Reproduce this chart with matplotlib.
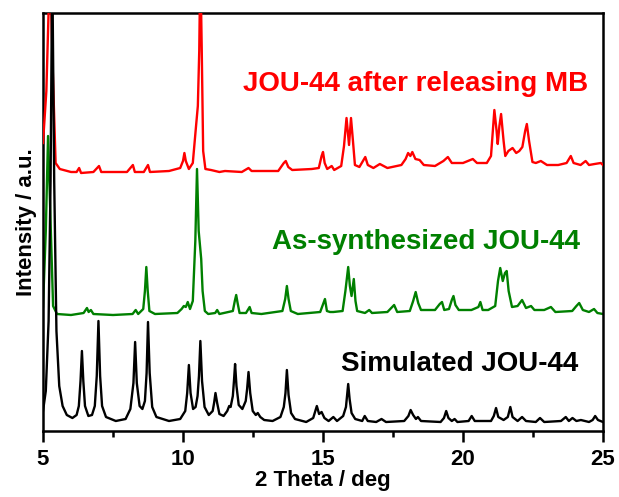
import numpy as np
import matplotlib
matplotlib.use('Agg')
import matplotlib.pyplot as plt
from matplotlib.ticker import MultipleLocator

plt.rcParams['font.family'] = ['Liberation Sans', 'DejaVu Sans']
plt.rcParams['font.weight'] = 'bold'

# Data (2 theta in deg, intensity in a.u., curves already offset)
# ----- ----- ----- ----- ----- ----- ----- ----- ----- ----- ----- ----- ----- -----
sim_x = [5.00, 5.10, 5.20, 5.27, 5.33, 5.40, 5.48, 5.58, 5.70, 5.85, 6.05, 6.20,
         6.28, 6.34, 6.39, 6.44, 6.50, 6.62, 6.75,
         6.85, 6.92, 6.98, 7.04, 7.11, 7.25, 7.60, 7.95,
         8.12, 8.23, 8.29, 8.35, 8.45, 8.55,
         8.64, 8.70, 8.75, 8.81, 8.90, 9.05, 9.50, 9.90,
         10.08, 10.15, 10.21, 10.27, 10.36, 10.45,
         10.52, 10.57, 10.62, 10.68, 10.77, 10.92,
         11.06, 11.11, 11.16, 11.22, 11.30, 11.45,
         11.58, 11.65, 11.70,
         11.78, 11.82, 11.86, 11.91, 11.99, 12.12,
         12.24, 12.29, 12.34, 12.40, 12.49, 12.60,
         12.67, 12.76, 12.90, 13.20, 13.48,
         13.60, 13.66, 13.71, 13.77, 13.86, 14.00, 14.40, 14.65,
         14.78, 14.86, 14.95, 15.05, 15.20, 15.37, 15.50, 15.72,
         15.82, 15.86, 15.90, 15.95, 16.02, 16.15, 16.40, 16.49, 16.60, 16.90,
         17.09, 17.25, 17.90, 18.05, 18.13, 18.22, 18.32, 18.39, 18.50,
         19.20, 19.32, 19.40, 19.48, 19.60, 19.70, 19.80, 20.20, 20.31, 20.42,
         21.00, 21.10, 21.18, 21.26, 21.45, 21.60, 21.69, 21.77, 21.95, 22.11,
         22.25, 22.60, 22.75, 22.90, 23.50, 23.67, 23.78, 23.91, 24.05, 24.21,
         24.50, 24.63, 24.72, 24.82, 25.00]
sim_y = [20, 40, 110, 250, 470, 250, 100, 45, 25, 16, 13, 16,
         25, 50, 80, 50, 25, 15, 16,
         25, 55, 110, 55, 25, 14, 10, 12,
         22, 48, 89, 48, 25, 22,
         30, 58, 109, 58, 24, 14, 10, 12,
         20, 38, 66, 38, 22, 24,
         35, 55, 90, 50, 24, 16,
         20, 28, 38, 28, 17, 15,
         20, 25, 24,
         35, 50, 67, 45, 26, 22,
         30, 42, 59, 38, 20, 16,
         18, 14, 11, 10, 14,
         24, 38, 61, 36, 18, 12, 9, 13,
         25, 17, 19, 13, 10, 14, 10, 15,
         24, 35, 47, 32, 18, 12, 10, 15, 10, 9,
         12, 9, 10, 15, 21, 16, 12, 14, 10,
         9, 13, 20, 13, 10, 12, 9, 10, 15, 10,
         10, 15, 23, 14, 11, 14, 24, 14, 10, 14,
         10, 9, 13, 9, 10, 14, 10, 13, 10, 11,
         9, 11, 15, 11, 9]

asyn_x = [5.00, 5.10, 5.18, 5.28, 5.36, 5.50, 6.00, 6.45, 6.57, 6.63, 6.71, 6.80,
          7.50, 8.20, 8.31, 8.40, 8.58, 8.64, 8.69, 8.74, 8.80, 9.00,
          9.80, 9.95, 10.03, 10.10, 10.17, 10.25, 10.35, 10.44, 10.50, 10.56,
          10.65, 10.70, 10.78, 10.90, 11.15, 11.22, 11.30, 11.78, 11.85, 11.90,
          11.95, 12.02, 12.25, 12.38, 12.45, 12.80, 13.55, 13.65, 13.71, 13.77,
          13.85, 14.10, 14.90, 15.07, 15.14, 15.25, 15.37, 15.70, 15.80, 15.90,
          15.96, 16.02, 16.10, 16.16, 16.22, 16.50, 16.65, 16.75, 17.30, 17.54,
          17.65, 18.10, 18.22, 18.31, 18.40, 18.50, 19.00, 19.17, 19.25, 19.33,
          19.50, 19.60, 19.66, 19.73, 19.85, 20.30, 20.55, 20.62, 20.70, 20.90,
          21.15, 21.25, 21.33, 21.42, 21.50, 21.56, 21.63, 21.75, 21.95, 22.11,
          22.25, 22.43, 22.55, 22.90, 23.14, 23.30, 23.90, 24.05, 24.15, 24.28,
          24.50, 24.68, 24.80, 25.00]
asyn_y = [124, 200, 295, 200, 125, 117, 116, 118, 123, 119, 121, 117,
          116, 117, 121, 117, 122, 140, 164, 140, 120, 117,
          118, 122, 125, 124, 129, 122, 130, 190, 262, 200,
          172, 140, 120, 117, 118, 121, 117, 120, 130, 136,
          128, 118, 118, 124, 118, 117, 120, 132, 145, 132,
          120, 117, 119, 132, 120, 119, 119, 120, 140, 164,
          145, 135, 152, 130, 120, 118, 121, 118, 119, 126,
          119, 120, 130, 139, 128, 121, 121, 127, 129, 121,
          122, 131, 135, 126, 121, 121, 124, 129, 121, 121,
          125, 150, 163, 150, 158, 160, 140, 124, 125, 131,
          123, 125, 121, 121, 124, 119, 120, 125, 128, 121,
          119, 122, 118, 117]

rel_x = [5.00, 5.12, 5.25, 5.35, 5.45, 5.60, 6.00, 6.20, 6.29, 6.36, 6.80, 7.00,
         7.08, 8.00, 8.21, 8.28, 8.60, 8.75, 8.82, 9.50, 9.90, 10.00, 10.05, 10.10,
         10.21, 10.35, 10.45, 10.53, 10.58, 10.62, 10.67, 10.72, 10.80, 11.00, 11.30, 11.50,
         12.10, 12.34, 12.45, 13.40, 13.60, 13.67, 13.76, 13.90, 14.60, 14.85, 14.95, 15.00,
         15.06, 15.15, 15.31, 15.40, 15.65, 15.75, 15.84, 15.93, 16.00, 16.07, 16.14, 16.30,
         16.51, 16.60, 16.80, 17.03, 17.30, 17.80, 17.95, 18.04, 18.12, 18.19, 18.30, 18.45,
         18.60, 19.00, 19.30, 19.46, 19.60, 20.00, 20.35, 20.50, 20.85, 21.00, 21.12, 21.20,
         21.24, 21.30, 21.36, 21.45, 21.51, 21.62, 21.77, 21.90, 22.01, 22.12, 22.22, 22.28,
         22.36, 22.48, 22.60, 22.78, 23.00, 23.40, 23.70, 23.85, 23.95, 24.20, 24.38, 24.50,
         24.70, 24.92, 25.00]
rel_y = [288, 340, 470, 360, 268, 262, 259, 259, 263, 258, 259, 265,
         259, 259, 266, 259, 259, 266, 259, 260, 263, 270, 278, 270,
         262, 268, 300, 325, 380, 470, 380, 280, 262, 261, 259, 260,
         259, 263, 260, 260, 268, 270, 264, 261, 262, 263, 275, 279,
         268, 262, 265, 261, 265, 285, 313, 286, 313, 290, 266, 264,
         274, 266, 263, 267, 263, 266, 272, 278, 275, 279, 272, 271,
         266, 265, 270, 274, 268, 268, 272, 268, 268, 275, 321, 300,
         287, 305, 317, 290, 275, 280, 283, 278, 280, 284, 300, 307,
         290, 269, 268, 270, 266, 266, 268, 275, 268, 266, 270, 266,
         267, 268, 266]

labels = ['Simulated JOU-44', 'As-synthesized JOU-44', 'JOU-44 after releasing MB']
colors = ['black', '#008000', '#ff0000']
x_ticks = [5, 10, 15, 20, 25]

# Plot
# ----- ----- ----- ----- ----- ----- ----- ----- ----- ----- ----- ----- ----- -----
fig = plt.figure(figsize=(6.19, 4.97), dpi=100)
ax = fig.add_axes([43 / 619, 66 / 497, 560 / 619, 418 / 497])

ax.plot(asyn_x, asyn_y, color=colors[1], lw=1.7, zorder=2)
ax.plot(rel_x, rel_y, color=colors[2], lw=1.7, zorder=3)
ax.plot(sim_x, sim_y, color=colors[0], lw=1.7, zorder=4)

ax.text(19.89, 67, labels[0], color=colors[0], fontsize=20, fontweight='bold',
        ha='center', va='center')
ax.text(18.67, 189, labels[1], color=colors[1], fontsize=20, fontweight='bold',
        ha='center', va='center')
ax.text(18.31, 347, labels[2], color=colors[2], fontsize=20, fontweight='bold',
        ha='center', va='center')

ax.set_xlim(5, 25)
ax.set_ylim(0, 418)
ax.set_xticks(x_ticks)
ax.set_xticklabels([str(t) for t in x_ticks])
ax.xaxis.set_minor_locator(MultipleLocator(2.5))
ax.set_yticks([])
ax.tick_params(axis='x', which='major', direction='out', length=8, width=1.8,
               labelsize=16, pad=5)
ax.tick_params(axis='x', which='minor', direction='out', length=4.5, width=1.8)
for lbl in ax.get_xticklabels():
    lbl.set_fontweight('bold')
for s in ax.spines.values():
    s.set_linewidth(1.8)

ax.set_xlabel('2 Theta / deg', fontsize=16, fontweight='bold', labelpad=0)
ax.set_ylabel('Intensity / a.u.', fontsize=16, fontweight='bold', labelpad=4)

fig.savefig('out.png', dpi=100)
